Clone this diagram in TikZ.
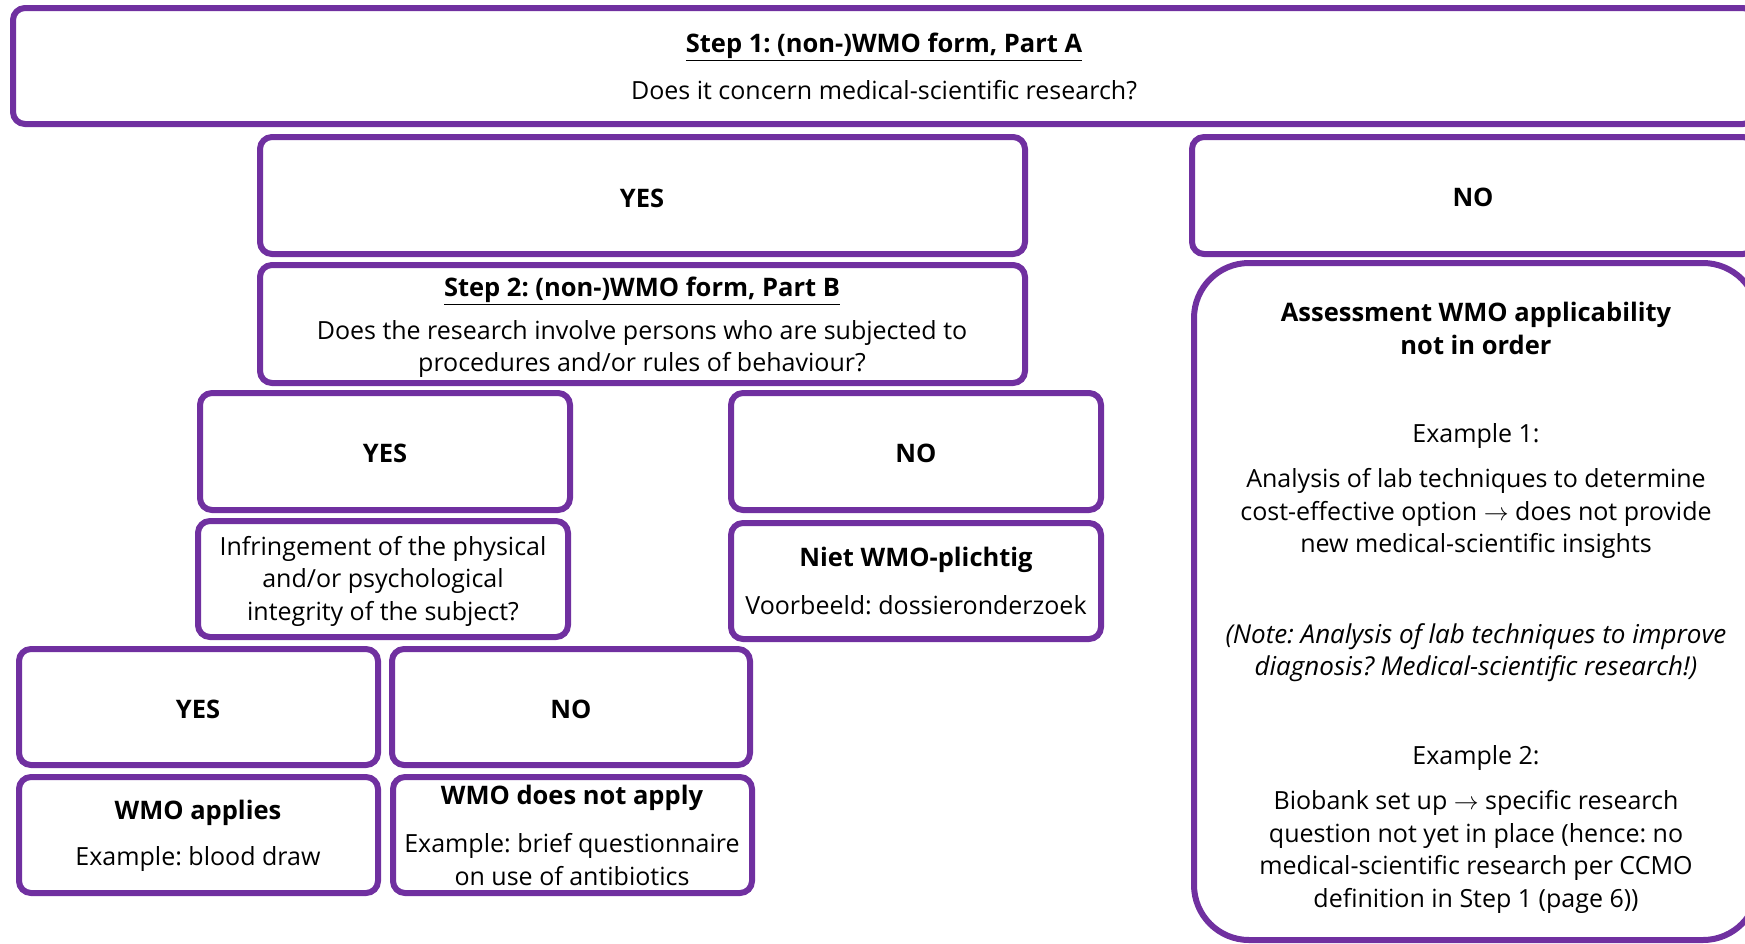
\documentclass[tikz,border=0pt]{standalone}
\usepackage{fontspec}
\setmainfont{Open Sans}
\definecolor{wmopurple}{RGB}{112,48,160}
\frenchspacing
\begin{document}
\begin{tikzpicture}[x=1pt,y=-1pt,
  box/.style={draw=wmopurple, line width=6pt, rounded corners=12pt, inner sep=0pt, fill=white},
  bigbox/.style={box, rounded corners=55pt},
  txt/.style={font=\fontsize{25}{32.5}\selectfont, align=center, inner sep=0pt, yshift=-2pt},
  ttl/.style={txt, font=\fontsize{25.5}{32.5}\selectfont\bfseries},
  utl/.style={ttl, yshift=-3pt},
  itx/.style={txt, font=\fontsize{26}{32.5}\selectfont\itshape}]
\useasboundingbox (0,0) rectangle (1745,943);
\clip (0,0) rectangle (1745,943);
% boxes
\node[box, minimum width=1742pt, minimum height=116pt] (top) at (884,66) {};
\node[box, minimum width=765pt, minimum height=117pt] (yesA) at (642.5,195.5) {};
\node[box, minimum width=563pt, minimum height=117pt] (noA) at (1473.5,195.5) {};
\node[box, minimum width=765pt, minimum height=118pt] (stepB) at (642.5,324) {};
\node[box, minimum width=370pt, minimum height=117pt] (yesB) at (385,451.5) {};
\node[box, minimum width=370pt, minimum height=117pt] (noB) at (916,451.5) {};
\node[box, minimum width=370pt, minimum height=116pt] (infr) at (383,579) {};
\node[box, minimum width=370pt, minimum height=116pt] (niet) at (916,581) {};
\node[box, minimum width=359pt, minimum height=116pt] (yesC) at (198.5,707) {};
\node[box, minimum width=358pt, minimum height=116pt] (noC) at (571,707) {};
\node[box, minimum width=359pt, minimum height=116pt] (applies) at (198.5,835) {};
\node[box, minimum width=359pt, minimum height=116pt] (notapply) at (572.5,835) {};
\node[bigbox, minimum width=564pt, minimum height=677pt] (assess) at (1476,601.5) {};
% texts
\node[utl] (t1title) at (884,42) {\underline{Step 1: (non-)WMO form, Part A}};
\node[txt] (t1q) at (884,88) {Does it concern medical-scientific research?};
\node[ttl] (yesAt) at (642,196) {YES};
\node[ttl] (noAt) at (1473,195) {NO};
\node[utl] (s2title) at (642,286) {\underline{Step 2: (non-)WMO form, Part B}};
\node[txt] (s2q) at (642,347) {Does the research involve persons who are subjected to\\procedures and/or rules of behaviour?};
\node[ttl] (yesBt) at (385,451) {YES};
\node[ttl] (noBt) at (916,451) {NO};
\node[txt] (infrt) at (383,579) {Infringement of the physical\\and/or psychological\\integrity of the subject?};
\node[ttl] (nietT) at (916,558) {Niet WMO-plichtig};
\node[txt] (nietE) at (916,603) {Voorbeeld: dossieronderzoek};
\node[ttl] (yesCt) at (198,707) {YES};
\node[ttl] (noCt) at (571,707) {NO};
\node[ttl] (appT) at (198,811) {WMO applies};
\node[txt] (appE) at (198,857) {Example: blood draw};
\node[ttl] (napT) at (572,796) {WMO does not apply};
\node[txt] (napE) at (572,857.5) {Example: brief questionnaire\\on use of antibiotics};
\node[ttl] (asT) at (1476,326.5) {Assessment WMO applicability\\not in order};
\node[txt] (ex1) at (1476,434) {Example 1:};
\node[txt] (ex1t) at (1476,511.5) {Analysis of lab techniques to determine\\cost-effective option $\rightarrow$ does not provide\\new medical-scientific insights};
\node[itx] (note) at (1476,650.5) {(Note: Analysis of lab techniques to improve\\diagnosis? Medical-scientific research!)};
\node[txt] (ex2) at (1476,756) {Example 2:};
\node[txt] (ex2t) at (1476,850) {Biobank set up $\rightarrow$ specific research\\question not yet in place (hence: no\\medical-scientific research per CCMO\\definition in Step 1 (page 6))};
\end{tikzpicture}
\end{document}
